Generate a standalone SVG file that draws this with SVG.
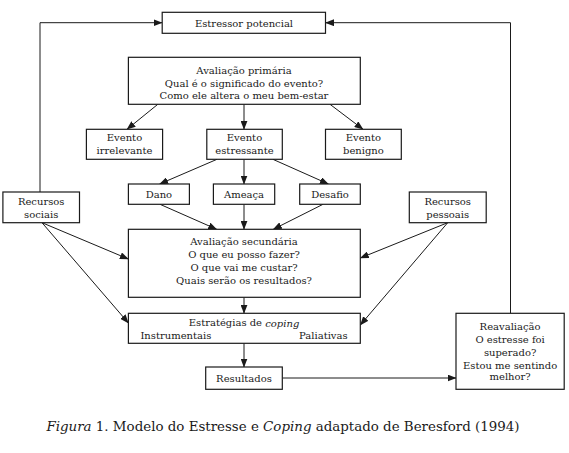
<svg xmlns="http://www.w3.org/2000/svg" width="569" height="453" viewBox="0 0 569 453">
<style>
.box{fill:#fff;stroke:#1a1a1a;stroke-width:1.2}
.t{font-family:"DejaVu Serif","Liberation Serif",serif;font-size:10px;fill:#1a1a1a;text-anchor:middle;dominant-baseline:central}
.c{fill:none;stroke:#1a1a1a;stroke-width:1}
.cap{font-family:"DejaVu Serif","Liberation Serif",serif;font-size:13.4px;fill:#1a1a1a;text-anchor:middle;dominant-baseline:central}
</style>
<defs>
<marker id="ah" markerWidth="9" markerHeight="7" refX="8.5" refY="3.5" orient="auto" markerUnits="userSpaceOnUse">
<path d="M0,0 L9,3.5 L0,7 z" fill="#1a1a1a"/>
</marker>
</defs>
<rect width="569" height="453" fill="#fff"/>
<g id="connectors">
<polyline class="c" points="40,192 40,22.7 162,22.7" marker-end="url(#ah)"/>
<polyline class="c" points="510.5,313.3 510.5,22.7 325.5,22.7" marker-end="url(#ah)"/>
<line class="c" x1="157.8" y1="104.3" x2="127" y2="129.3" marker-end="url(#ah)"/>
<line class="c" x1="244" y1="104.3" x2="244" y2="129.3" marker-end="url(#ah)"/>
<line class="c" x1="330" y1="104.3" x2="363" y2="129.3" marker-end="url(#ah)"/>
<line class="c" x1="217" y1="159.3" x2="159.6" y2="184" marker-end="url(#ah)"/>
<line class="c" x1="244" y1="159.3" x2="244" y2="184" marker-end="url(#ah)"/>
<line class="c" x1="272.9" y1="159.3" x2="328.4" y2="184" marker-end="url(#ah)"/>
<line class="c" x1="160" y1="204.3" x2="216.7" y2="229.3" marker-end="url(#ah)"/>
<line class="c" x1="244" y1="204.3" x2="244" y2="229.3" marker-end="url(#ah)"/>
<line class="c" x1="323" y1="204.3" x2="273.3" y2="229.3" marker-end="url(#ah)"/>
<line class="c" x1="42" y1="222.7" x2="128.4" y2="259" marker-end="url(#ah)"/>
<line class="c" x1="42" y1="222.7" x2="128.4" y2="323" marker-end="url(#ah)"/>
<line class="c" x1="447.7" y1="222.7" x2="360.3" y2="258" marker-end="url(#ah)"/>
<line class="c" x1="447.7" y1="222.7" x2="360.3" y2="325" marker-end="url(#ah)"/>
<line class="c" x1="244" y1="297.3" x2="244" y2="313.3" marker-end="url(#ah)"/>
<line class="c" x1="244" y1="343.3" x2="244" y2="367" marker-end="url(#ah)"/>
<line class="c" x1="282.3" y1="378" x2="456" y2="378" marker-end="url(#ah)"/>
</g>
<g id="estressor">
<rect class="box" x="162.2" y="12.3" width="163.3" height="21"/>
<text class="t" x="244" y="23">Estressor potencial</text>
</g>
<g id="primaria">
<rect class="box" x="128.4" y="57.3" width="231.9" height="47"/>
<text class="t" x="244" y="70">Avaliação primária</text>
<text class="t" x="244" y="83.3">Qual é o significado do evento?</text>
<text class="t" x="244" y="95.5">Como ele altera o meu bem-estar</text>
</g>
<g id="irrelevante">
<rect class="box" x="86.4" y="129.3" width="76.2" height="30"/>
<text class="t" x="124.5" y="137.5">Evento</text>
<text class="t" x="124.5" y="150.7">irrelevante</text>
</g>
<g id="estressante">
<rect class="box" x="206.8" y="129.3" width="75.5" height="30"/>
<text class="t" x="244.5" y="137.5">Evento</text>
<text class="t" x="244.5" y="150.7">estressante</text>
</g>
<g id="benigno">
<rect class="box" x="325.5" y="129.3" width="75.8" height="30"/>
<text class="t" x="363.4" y="137.5">Evento</text>
<text class="t" x="363.4" y="150.7">benigno</text>
</g>
<g id="dano">
<rect class="box" x="128.4" y="184" width="61" height="20.3"/>
<text class="t" x="158.9" y="194.5">Dano</text>
</g>
<g id="ameaca">
<rect class="box" x="213.4" y="184" width="61.3" height="20.3"/>
<text class="t" x="244" y="194">Ameaça</text>
</g>
<g id="desafio">
<rect class="box" x="299.7" y="184" width="60.6" height="20.3"/>
<text class="t" x="330" y="194.5">Desafio</text>
</g>
<g id="sociais">
<rect class="box" x="2.9" y="192" width="76.6" height="30.7"/>
<text class="t" x="41.2" y="201.5">Recursos</text>
<text class="t" x="41.2" y="214.3">sociais</text>
</g>
<g id="pessoais">
<rect class="box" x="409.3" y="192" width="76.9" height="30.7"/>
<text class="t" x="447.7" y="201.5">Recursos</text>
<text class="t" x="447.7" y="214.3">pessoais</text>
</g>
<g id="secundaria">
<rect class="box" x="128.4" y="229.3" width="231.9" height="68"/>
<text class="t" x="244" y="241">Avaliação secundária</text>
<text class="t" x="244" y="254.3">O que eu posso fazer?</text>
<text class="t" x="244" y="267.7">O que vai me custar?</text>
<text class="t" x="244" y="280.7">Quais serão os resultados?</text>
</g>
<g id="estrategias">
<rect class="box" x="128.4" y="313.3" width="231.9" height="30"/>
<text class="t" x="244" y="322.7">Estratégias de <tspan font-style="italic">coping</tspan></text>
<text class="t" x="140.4" y="335" style="text-anchor:start">Instrumentais</text>
<text class="t" x="347.6" y="335" style="text-anchor:end">Paliativas</text>
</g>
<g id="resultados">
<rect class="box" x="205.7" y="367" width="76.6" height="22.3"/>
<text class="t" x="244" y="378">Resultados</text>
</g>
<g id="reavaliacao">
<rect class="box" x="456" y="313.3" width="108.2" height="76"/>
<text class="t" x="510.1" y="326.7">Reavaliação</text>
<text class="t" x="510.1" y="339.3">O estresse foi</text>
<text class="t" x="510.1" y="352.7">superado?</text>
<text class="t" x="510.1" y="365">Estou me sentindo</text>
<text class="t" x="510.1" y="376.7">melhor?</text>
</g>
<text class="cap" x="283" y="426"><tspan font-style="italic">Figura</tspan> 1. Modelo do Estresse e <tspan font-style="italic">Coping</tspan> adaptado de Beresford (1994)</text>
</svg>
